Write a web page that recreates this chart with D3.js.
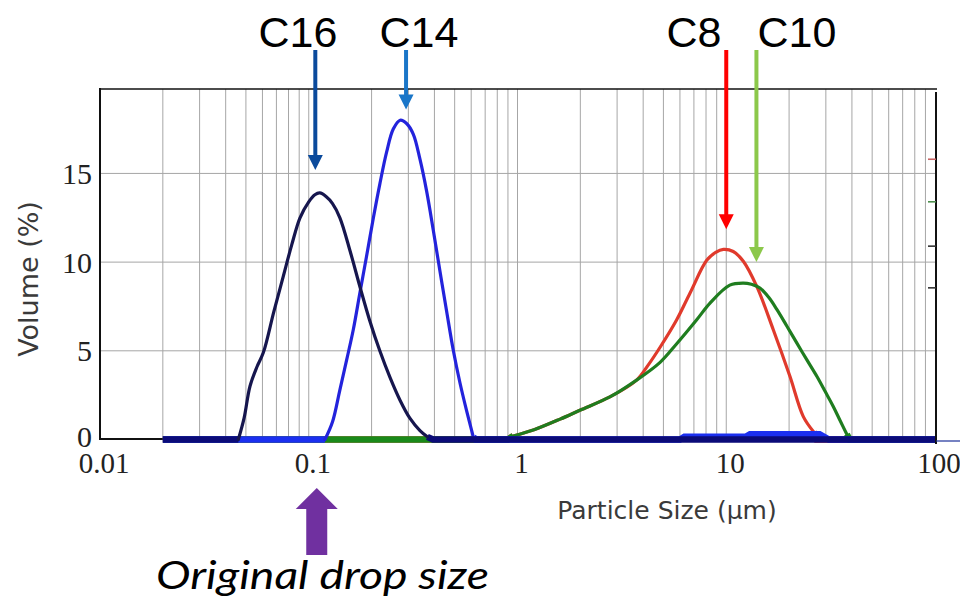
<!DOCTYPE html>
<html>
<head>
<meta charset="utf-8">
<script src="https://cdn.jsdelivr.net/npm/d3@7"></script>
<style>
  html, body { margin: 0; padding: 0; background: #fff; }
  svg { display: block; }
</style>
</head>
<body>
<svg id="chart" width="960" height="599"></svg>
<script>
// Axis ticks
const xTicks = [0.01, 0.1, 1, 10, 100];
const yTicks = [0, 5, 10, 15];

// Particle size distributions: [size (µm), volume (%)]
const c16 = [[0.02,0],[0.046,0],[0.049,1.2],[0.0523,3.0],[0.0565,4.1],[0.0606,4.9],[0.068,7.2],[0.0755,9.2],
  [0.083,11.0],[0.0908,12.5],[0.1,13.4],[0.107,13.8],[0.113,13.9],[0.121,13.7],[0.13,13.3],[0.141,12.5],
  [0.158,10.6],[0.176,8.6],[0.196,6.7],[0.219,5.0],[0.245,3.5],[0.274,2.2],[0.305,1.2],[0.341,0.5],
  [0.37,0.15],[0.394,0],[100,0]];
const c14 = [[0.02,0],[0.1196,0],[0.13,1.0],[0.141,2.8],[0.152,4.5],[0.1635,6.2],[0.176,8.3],[0.189,10.3],
  [0.204,12.5],[0.219,14.4],[0.236,16.2],[0.254,17.5],[0.274,18.0],[0.295,17.8],[0.317,17.2],[0.341,15.8],
  [0.367,14.0],[0.395,11.8],[0.425,9.5],[0.458,7.2],[0.493,5.0],[0.53,3.2],[0.571,1.6],[0.614,0.15],
  [0.63,0],[6.0,0],[6.3,0.15],[12.4,0.15],[13.0,0.3],[28,0.3],[30,0.1],[31,0],[100,0]];
const c8 = [[0.02,0],[0.9,0],[0.955,0.2],[1.2,0.55],[1.6,1.15],[1.99,1.65],[2.77,2.4],[3.72,3.35],[4.2,4.15],
  [4.82,5.2],[5.79,6.75],[6.71,8.26],[8.06,10.1],[8.9,10.55],[9.69,10.72],[10.8,10.6],[12.07,10.05],
  [14.0,8.63],[16.8,6.19],[20.2,3.55],[23.4,1.29],[26.2,0.44],[27.1,0],[100,0]];
const c10 = [[0.02,0],[0.9,0],[0.955,0.2],[1.2,0.55],[1.6,1.15],[1.99,1.65],[2.77,2.4],[3.72,3.35],[4.82,4.35],
  [5.79,5.4],[7.22,6.75],[8.36,7.69],[10.4,8.7],[12.07,8.82],[13.2,8.75],[14.5,8.54],
  [16.0,8.0],[17.5,7.32],[19.5,6.4],[21.8,5.43],[24.3,4.5],[27.2,3.55],[29.8,2.7],[32.6,1.85],[35,1.1],
  [37.8,0.3],[39,0],[100,0]];

const seriesNames = ["C8", "C10", "C14", "C16"];
const seriesData = [c8, c10, c14, c16];

const svg = d3.select("#chart");

const x = d3.scaleLog().domain([0.01, 100]).range([100, 935]);
const y = d3.scaleLinear().domain([0, 19.76]).range([439.5, 89]);

const style = {
  C8:  { line: "#e03a2c", base: "#e03a2c" },
  C10: { line: "#1f7d1f", base: "#1a8a1a" },
  C14: { line: "#2323dc", base: "#1b2ff0" },
  C16: { line: "#16164e", base: "#0b0b78" }
};

// Grid
const gridX = [];
for (let k = -2; k <= 1; k++) for (let m = 1; m <= 9; m++) {
  const v = m * Math.pow(10, k);
  if (v > 0.01 && v < 100) gridX.push(v);
}
svg.append("g").selectAll("line").data(gridX).join("line")
  .attr("x1", d => x(d)).attr("x2", d => x(d))
  .attr("y1", 89).attr("y2", 439)
  .attr("stroke", "#a6a6a6").attr("stroke-width", 1);
svg.append("g").selectAll("line").data(yTicks.filter(d => d > 0)).join("line")
  .attr("x1", 100).attr("x2", 936)
  .attr("y1", d => y(d)).attr("y2", d => y(d))
  .attr("stroke", "#a6a6a6").attr("stroke-width", 1);

// Frame
svg.append("line").attr("x1", 100).attr("x2", 937).attr("y1", 89).attr("y2", 89)
  .attr("stroke", "#111").attr("stroke-width", 1.6);
svg.append("line").attr("x1", 100).attr("x2", 100).attr("y1", 88).attr("y2", 440)
  .attr("stroke", "#111").attr("stroke-width", 2);
svg.append("line").attr("x1", 936).attr("x2", 936).attr("y1", 92).attr("y2", 444)
  .attr("stroke", "#111").attr("stroke-width", 2);
svg.append("line").attr("x1", 100).attr("x2", 936).attr("y1", 439).attr("y2", 439)
  .attr("stroke", "#111").attr("stroke-width", 2);
svg.append("line").attr("x1", 936).attr("x2", 960).attr("y1", 441).attr("y2", 441)
  .attr("stroke", "#1b2f9a").attr("stroke-width", 1.2);

// Small markers on the right edge
const rightMarks = [{ v: 15.8, c: "#c86464" }, { v: 13.4, c: "#4f8f4f" }, { v: 10.9, c: "#333" }, { v: 8.55, c: "#333" }];
svg.append("g").selectAll("line").data(rightMarks).join("line")
  .attr("x1", 928).attr("x2", 936)
  .attr("y1", d => y(d.v)).attr("y2", d => y(d.v))
  .attr("stroke", d => d.c).attr("stroke-width", 1.6);

// Curves: the near-zero stretches form a heavy baseline, the peaks a smooth thinner line
const low = 0.5;
const thick = d3.line().defined(d => d[1] < low)
  .x(d => x(d[0])).y(d => y(d[1])).curve(d3.curveLinear);
const thin = d3.line()
  .defined((d, i, a) => d[1] >= low || (a[i - 1] && a[i - 1][1] >= low) || (a[i + 1] && a[i + 1][1] >= low))
  .x(d => x(d[0])).y(d => y(d[1])).curve(d3.curveCatmullRom.alpha(0.5));

seriesNames.forEach((name, i) => {
  const g = svg.append("g");
  g.append("path").datum(seriesData[i]).attr("d", thick)
    .attr("fill", "none").attr("stroke", style[name].base).attr("stroke-width", 6.5);
  g.append("path").datum(seriesData[i]).attr("d", thin)
    .attr("fill", "none").attr("stroke", style[name].line).attr("stroke-width", 3.2)
    .attr("stroke-linejoin", "round").attr("stroke-linecap", "round");
});

// Tick labels
svg.append("g").selectAll("text").data(yTicks).join("text")
  .attr("x", 92).attr("y", d => y(d) - (d === 0 ? 3 : 0)).attr("dy", "0.35em")
  .attr("text-anchor", "end")
  .attr("font-family", "Liberation Serif, serif").attr("font-size", 30)
  .attr("fill", "#222").text(d => d);
svg.append("g").selectAll("text").data(xTicks).join("text")
  .attr("x", d => x(d) + 4).attr("y", 473)
  .attr("text-anchor", "middle")
  .attr("font-family", "Liberation Serif, serif").attr("font-size", 29)
  .attr("fill", "#222").text(d => d);

// Axis titles
svg.append("text")
  .attr("transform", "translate(28,279) rotate(-90)")
  .attr("text-anchor", "middle").attr("dominant-baseline", "central")
  .attr("font-family", "DejaVu Sans, sans-serif").attr("font-size", 27)
  .attr("fill", "#3a3a3a").text("Volume (%)");
svg.append("text")
  .attr("x", 667).attr("y", 519)
  .attr("text-anchor", "middle")
  .attr("font-family", "DejaVu Sans, sans-serif").attr("font-size", 25)
  .attr("fill", "#3a3a3a").text("Particle Size (µm)");

// Labelled arrows over the peaks
const arrows = [
  { name: "C16", text: 298, at: 0.1075, tip: 15.2, color: "#0b4a9c" },
  { name: "C14", text: 419, at: 0.2925, tip: 18.6, color: "#1a76c8" },
  { name: "C8",  text: 694, at: 10.0,  tip: 11.85, color: "#ff0000" },
  { name: "C10", text: 797, at: 13.95, tip: 10.0, color: "#8cc84b" }
];
const ag = svg.append("g");
arrows.forEach(a => {
  const ax = x(a.at), ty = y(a.tip);
  ag.append("text").attr("x", a.text).attr("y", 47)
    .attr("text-anchor", "middle")
    .attr("font-family", "Liberation Sans, Arial, sans-serif").attr("font-size", 43)
    .attr("fill", "#000").text(a.name);
  ag.append("line").attr("x1", ax).attr("x2", ax).attr("y1", 50).attr("y2", ty - 12)
    .attr("stroke", a.color).attr("stroke-width", 4);
  ag.append("path")
    .attr("d", `M${ax - 7.5},${ty - 15}L${ax + 7.5},${ty - 15}L${ax},${ty}Z`)
    .attr("fill", a.color);
});

// Original drop size marker
const px = x(0.1) + 8;
svg.append("path")
  .attr("d", `M${px},488 L${px + 21},509 L${px + 10.5},509 L${px + 10.5},555 L${px - 10.5},555 L${px - 10.5},509 L${px - 21},509 Z`)
  .attr("fill", "#7030a0");
svg.append("text").attr("x", 156).attr("y", 589)
  .attr("font-family", "Lato, sans-serif").attr("font-style", "italic").attr("font-size", 39)
  .attr("textLength", 333).attr("lengthAdjust", "spacingAndGlyphs")
  .attr("fill", "#000").text("Original drop size");
</script>
</body>
</html>
